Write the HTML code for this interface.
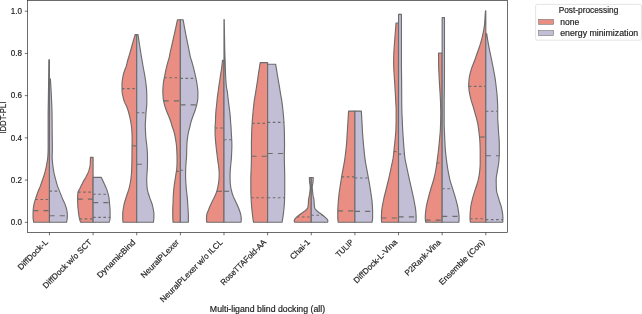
<!DOCTYPE html>
<html><head><meta charset="utf-8"><title>Multi-ligand blind docking</title>
<style>
html,body{margin:0;padding:0;background:#fff;}
body{width:642px;height:314px;overflow:hidden;position:relative;font-family:"Liberation Sans",sans-serif;}
</style></head><body>
<svg width="642" height="314" viewBox="0 0 642 314" style="position:absolute;left:0;top:0;will-change:transform">
<rect x="0" y="0" width="642" height="314" fill="#fff"/>
<path d="M49.45 59.70L48.85 59.70L48.84 60.70L48.83 61.70L48.82 62.70L48.81 63.70L48.80 64.70L48.80 65.70L48.79 66.70L48.78 67.70L48.77 68.70L48.75 69.70L48.74 70.70L48.73 71.70L48.72 72.70L48.71 73.70L48.70 74.70L48.69 75.70L48.68 76.70L48.67 77.70L48.65 78.70L48.64 79.70L48.63 80.70L48.62 81.70L48.60 82.70L48.59 83.70L48.57 84.70L48.56 85.70L48.55 86.70L48.53 87.70L48.52 88.70L48.50 89.70L48.49 90.70L48.47 91.70L48.46 92.70L48.44 93.70L48.43 94.70L48.41 95.70L48.40 96.70L48.38 97.70L48.37 98.70L48.35 99.70L48.34 100.70L48.32 101.70L48.31 102.70L48.29 103.70L48.27 104.70L48.26 105.70L48.24 106.70L48.22 107.70L48.21 108.70L48.19 109.70L48.18 110.70L48.17 111.70L48.16 112.70L48.15 113.70L48.15 114.70L48.15 115.70L48.15 116.70L48.15 117.70L48.15 118.70L48.15 119.70L48.15 120.70L48.15 121.70L48.15 122.70L48.15 123.70L48.15 124.70L48.15 125.70L48.15 126.70L48.15 127.70L48.15 128.70L48.15 129.70L48.15 130.70L48.15 131.70L48.15 132.70L48.15 133.70L48.15 134.70L48.15 135.70L48.15 136.70L48.15 137.70L48.15 138.70L48.15 139.70L48.15 140.70L48.15 141.70L48.15 142.70L48.15 143.70L48.15 144.70L48.15 145.70L48.15 146.70L48.15 147.70L48.15 148.70L48.13 149.70L48.11 150.70L48.08 151.70L48.04 152.70L48.00 153.70L47.94 154.70L47.89 155.70L47.82 156.70L47.76 157.70L47.67 158.70L47.53 159.70L47.36 160.70L47.18 161.70L47.00 162.70L46.83 163.70L46.66 164.70L46.49 165.70L46.29 166.70L46.08 167.70L45.86 168.70L45.62 169.70L45.38 170.70L45.12 171.70L44.85 172.70L44.56 173.70L44.25 174.70L43.92 175.70L43.57 176.70L43.23 177.70L42.89 178.70L42.55 179.70L42.22 180.70L41.88 181.70L41.55 182.70L41.20 183.70L40.84 184.70L40.47 185.70L40.08 186.70L39.66 187.70L39.23 188.70L38.80 189.70L38.38 190.70L37.99 191.70L37.62 192.70L37.25 193.70L36.90 194.70L36.56 195.70L36.23 196.70L35.91 197.70L35.59 198.70L35.27 199.70L34.96 200.70L34.65 201.70L34.37 202.70L34.13 203.70L33.93 204.70L33.76 205.70L33.60 206.70L33.45 207.70L33.32 208.70L33.22 209.70L33.16 210.70L33.13 211.70L33.10 212.70L33.08 213.70L33.06 214.70L33.05 215.70L33.05 216.70L33.09 217.70L33.18 218.70L33.30 219.70L33.46 220.70L33.64 221.70L33.75 222.30L49.45 222.30Z" fill="#EA8E83" stroke="#6c6c6c" stroke-width="1.14" stroke-linejoin="round"/>
<path d="M35.34 199.50H49.45" stroke="#6c6c6c" stroke-width="1.14" stroke-dasharray="2.57 2.57" fill="none"/>
<path d="M33.16 210.69H49.45" stroke="#6c6c6c" stroke-width="1.14" stroke-dasharray="5.13 5.13" fill="none"/>
<path d="M49.45 78.90L50.35 78.90L50.42 79.90L50.49 80.90L50.56 81.90L50.62 82.90L50.69 83.90L50.75 84.90L50.82 85.90L50.88 86.90L50.94 87.90L51.00 88.90L51.05 89.90L51.11 90.90L51.16 91.90L51.22 92.90L51.27 93.90L51.32 94.90L51.37 95.90L51.41 96.90L51.46 97.90L51.50 98.90L51.55 99.90L51.59 100.90L51.63 101.90L51.67 102.90L51.71 103.90L51.76 104.90L51.80 105.90L51.83 106.90L51.87 107.90L51.91 108.90L51.94 109.90L51.97 110.90L51.99 111.90L52.02 112.90L52.03 113.90L52.05 114.90L52.06 115.90L52.07 116.90L52.08 117.90L52.08 118.90L52.09 119.90L52.10 120.90L52.10 121.90L52.11 122.90L52.11 123.90L52.12 124.90L52.12 125.90L52.13 126.90L52.13 127.90L52.14 128.90L52.15 129.90L52.16 130.90L52.17 131.90L52.18 132.90L52.19 133.90L52.21 134.90L52.22 135.90L52.24 136.90L52.25 137.90L52.27 138.90L52.28 139.90L52.30 140.90L52.31 141.90L52.32 142.90L52.33 143.90L52.34 144.90L52.34 145.90L52.35 146.90L52.35 147.90L52.35 148.90L52.33 149.90L52.31 150.90L52.28 151.90L52.25 152.90L52.22 153.90L52.19 154.90L52.17 155.90L52.15 156.90L52.15 157.90L52.18 158.90L52.25 159.90L52.34 160.90L52.44 161.90L52.54 162.90L52.64 163.90L52.76 164.90L52.88 165.90L53.02 166.90L53.16 167.90L53.30 168.90L53.46 169.90L53.62 170.90L53.80 171.90L53.99 172.90L54.20 173.90L54.44 174.90L54.69 175.90L54.96 176.90L55.23 177.90L55.50 178.90L55.76 179.90L56.03 180.90L56.29 181.90L56.57 182.90L56.86 183.90L57.16 184.90L57.48 185.90L57.83 186.90L58.20 187.90L58.59 188.90L58.99 189.90L59.39 190.90L59.79 191.90L60.18 192.90L60.58 193.90L60.99 194.90L61.39 195.90L61.81 196.90L62.22 197.90L62.65 198.90L63.11 199.90L63.58 200.90L64.04 201.90L64.49 202.90L64.90 203.90L65.25 204.90L65.60 205.90L65.93 206.90L66.24 207.90L66.52 208.90L66.75 209.90L66.94 210.90L67.08 211.90L67.21 212.90L67.31 213.90L67.35 214.90L67.34 215.90L67.31 216.90L67.24 217.90L67.15 218.90L67.02 219.90L66.85 220.90L66.64 221.90L66.55 222.30L49.45 222.30Z" fill="#C1BED6" stroke="#6c6c6c" stroke-width="1.14" stroke-linejoin="round"/>
<path d="M49.45 191.06H59.46" stroke="#6c6c6c" stroke-width="1.14" stroke-dasharray="2.57 2.57" fill="none"/>
<path d="M49.45 215.76H67.34" stroke="#6c6c6c" stroke-width="1.14" stroke-dasharray="5.13 5.13" fill="none"/>
<path d="M93.09 157.40L90.49 157.40L90.48 158.40L90.45 159.40L90.41 160.40L90.36 161.40L90.30 162.40L90.24 163.40L90.16 164.40L90.04 165.40L89.88 166.40L89.67 167.40L89.43 168.40L89.18 169.40L88.90 170.40L88.55 171.40L88.14 172.40L87.68 173.40L87.19 174.40L86.68 175.40L86.19 176.40L85.67 177.40L85.12 178.40L84.55 179.40L83.98 180.40L83.42 181.40L82.88 182.40L82.35 183.40L81.84 184.40L81.32 185.40L80.82 186.40L80.32 187.40L79.84 188.40L79.29 189.40L78.72 190.40L78.25 191.40L77.99 192.40L77.87 193.40L77.78 194.40L77.70 195.40L77.64 196.40L77.60 197.40L77.59 198.40L77.59 199.40L77.60 200.40L77.63 201.40L77.67 202.40L77.71 203.40L77.75 204.40L77.80 205.40L77.86 206.40L77.95 207.40L78.04 208.40L78.15 209.40L78.26 210.40L78.37 211.40L78.49 212.40L78.61 213.40L78.74 214.40L78.88 215.40L79.03 216.40L79.21 217.40L79.41 218.40L79.66 219.40L79.95 220.40L80.28 221.40L80.59 222.30L93.09 222.30Z" fill="#EA8E83" stroke="#6c6c6c" stroke-width="1.14" stroke-linejoin="round"/>
<path d="M78.03 192.11H93.09" stroke="#6c6c6c" stroke-width="1.14" stroke-dasharray="2.57 2.57" fill="none"/>
<path d="M77.59 199.08H93.09" stroke="#6c6c6c" stroke-width="1.14" stroke-dasharray="5.13 5.13" fill="none"/>
<path d="M79.54 218.92H93.09" stroke="#6c6c6c" stroke-width="1.14" stroke-dasharray="2.57 2.57" fill="none"/>
<path d="M93.09 177.40L101.39 177.40L101.85 178.40L102.31 179.40L102.77 180.40L103.22 181.40L103.68 182.40L104.13 183.40L104.60 184.40L105.06 185.40L105.50 186.40L105.93 187.40L106.32 188.40L106.70 189.40L107.06 190.40L107.39 191.40L107.69 192.40L107.96 193.40L108.22 194.40L108.46 195.40L108.68 196.40L108.88 197.40L109.04 198.40L109.17 199.40L109.29 200.40L109.38 201.40L109.47 202.40L109.56 203.40L109.63 204.40L109.71 205.40L109.79 206.40L109.87 207.40L109.95 208.40L110.02 209.40L110.07 210.40L110.08 211.40L110.09 212.40L110.09 213.40L110.09 214.40L110.09 215.40L110.09 216.40L110.09 217.40L110.06 218.40L109.91 219.40L109.67 220.40L109.37 221.40L109.09 222.30L93.09 222.30Z" fill="#C1BED6" stroke="#6c6c6c" stroke-width="1.14" stroke-linejoin="round"/>
<path d="M93.09 194.22H108.17" stroke="#6c6c6c" stroke-width="1.14" stroke-dasharray="2.57 2.57" fill="none"/>
<path d="M93.09 202.56H109.49" stroke="#6c6c6c" stroke-width="1.14" stroke-dasharray="5.13 5.13" fill="none"/>
<path d="M93.09 217.44H110.09" stroke="#6c6c6c" stroke-width="1.14" stroke-dasharray="2.57 2.57" fill="none"/>
<path d="M136.72 34.50L135.22 34.50L134.92 35.50L134.63 36.50L134.33 37.50L134.04 38.50L133.74 39.50L133.45 40.50L133.16 41.50L132.88 42.50L132.59 43.50L132.31 44.50L132.03 45.50L131.75 46.50L131.47 47.50L131.19 48.50L130.91 49.50L130.63 50.50L130.35 51.50L130.07 52.50L129.79 53.50L129.51 54.50L129.22 55.50L128.92 56.50L128.60 57.50L128.28 58.50L127.97 59.50L127.67 60.50L127.40 61.50L127.16 62.50L126.96 63.50L126.74 64.50L126.48 65.50L126.15 66.50L125.77 67.50L125.38 68.50L124.98 69.50L124.61 70.50L124.29 71.50L123.99 72.50L123.70 73.50L123.42 74.50L123.16 75.50L122.94 76.50L122.75 77.50L122.60 78.50L122.44 79.50L122.30 80.50L122.18 81.50L122.08 82.50L122.03 83.50L122.02 84.50L122.02 85.50L122.02 86.50L122.02 87.50L122.02 88.50L122.02 89.50L122.02 90.50L122.06 91.50L122.17 92.50L122.33 93.50L122.53 94.50L122.74 95.50L122.96 96.50L123.17 97.50L123.41 98.50L123.68 99.50L123.99 100.50L124.32 101.50L124.72 102.50L125.21 103.50L125.73 104.50L126.23 105.50L126.66 106.50L127.04 107.50L127.40 108.50L127.75 109.50L128.07 110.50L128.38 111.50L128.66 112.50L128.94 113.50L129.19 114.50L129.44 115.50L129.67 116.50L129.89 117.50L130.10 118.50L130.30 119.50L130.50 120.50L130.69 121.50L130.87 122.50L131.03 123.50L131.19 124.50L131.32 125.50L131.44 126.50L131.56 127.50L131.66 128.50L131.76 129.50L131.84 130.50L131.90 131.50L131.95 132.50L132.00 133.50L132.04 134.50L132.07 135.50L132.10 136.50L132.12 137.50L132.12 138.50L132.12 139.50L132.11 140.50L132.10 141.50L132.09 142.50L132.07 143.50L132.06 144.50L132.05 145.50L132.03 146.50L132.02 147.50L132.01 148.50L132.01 149.50L132.00 150.50L131.99 151.50L131.99 152.50L131.98 153.50L131.97 154.50L131.97 155.50L131.96 156.50L131.95 157.50L131.94 158.50L131.93 159.50L131.92 160.50L131.91 161.50L131.89 162.50L131.87 163.50L131.85 164.50L131.82 165.50L131.79 166.50L131.76 167.50L131.72 168.50L131.68 169.50L131.64 170.50L131.60 171.50L131.54 172.50L131.47 173.50L131.39 174.50L131.29 175.50L131.19 176.50L131.08 177.50L130.97 178.50L130.84 179.50L130.70 180.50L130.54 181.50L130.37 182.50L130.17 183.50L129.97 184.50L129.75 185.50L129.53 186.50L129.29 187.50L129.04 188.50L128.76 189.50L128.45 190.50L128.11 191.50L127.77 192.50L127.42 193.50L127.07 194.50L126.73 195.50L126.41 196.50L126.11 197.50L125.79 198.50L125.47 199.50L125.16 200.50L124.85 201.50L124.56 202.50L124.29 203.50L124.06 204.50L123.86 205.50L123.68 206.50L123.51 207.50L123.34 208.50L123.18 209.50L123.03 210.50L122.91 211.50L122.81 212.50L122.75 213.50L122.72 214.50L122.72 215.50L122.73 216.50L122.74 217.50L122.76 218.50L122.80 219.50L122.86 220.50L122.94 221.50L123.02 222.30L136.72 222.30Z" fill="#EA8E83" stroke="#6c6c6c" stroke-width="1.14" stroke-linejoin="round"/>
<path d="M122.02 88.67H136.72" stroke="#6c6c6c" stroke-width="1.14" stroke-dasharray="2.57 2.57" fill="none"/>
<path d="M132.04 145.88H136.72" stroke="#6c6c6c" stroke-width="1.14" stroke-dasharray="5.13 5.13" fill="none"/>
<path d="M136.72 34.50L138.02 34.50L138.16 35.50L138.30 36.50L138.45 37.50L138.59 38.50L138.74 39.50L138.89 40.50L139.04 41.50L139.19 42.50L139.34 43.50L139.50 44.50L139.65 45.50L139.81 46.50L139.97 47.50L140.13 48.50L140.28 49.50L140.44 50.50L140.59 51.50L140.74 52.50L140.90 53.50L141.06 54.50L141.22 55.50L141.39 56.50L141.56 57.50L141.74 58.50L141.92 59.50L142.10 60.50L142.27 61.50L142.43 62.50L142.58 63.50L142.74 64.50L142.91 65.50L143.09 66.50L143.28 67.50L143.47 68.50L143.66 69.50L143.85 70.50L144.04 71.50L144.22 72.50L144.40 73.50L144.58 74.50L144.76 75.50L144.93 76.50L145.09 77.50L145.24 78.50L145.40 79.50L145.55 80.50L145.69 81.50L145.82 82.50L145.95 83.50L146.07 84.50L146.18 85.50L146.29 86.50L146.39 87.50L146.48 88.50L146.56 89.50L146.62 90.50L146.67 91.50L146.71 92.50L146.75 93.50L146.78 94.50L146.81 95.50L146.82 96.50L146.82 97.50L146.82 98.50L146.82 99.50L146.82 100.50L146.82 101.50L146.82 102.50L146.82 103.50L146.77 104.50L146.69 105.50L146.61 106.50L146.53 107.50L146.43 108.50L146.33 109.50L146.22 110.50L146.12 111.50L146.04 112.50L145.96 113.50L145.89 114.50L145.83 115.50L145.77 116.50L145.71 117.50L145.65 118.50L145.60 119.50L145.54 120.50L145.47 121.50L145.42 122.50L145.37 123.50L145.33 124.50L145.32 125.50L145.33 126.50L145.35 127.50L145.38 128.50L145.42 129.50L145.46 130.50L145.51 131.50L145.55 132.50L145.60 133.50L145.65 134.50L145.72 135.50L145.78 136.50L145.86 137.50L145.95 138.50L146.07 139.50L146.20 140.50L146.33 141.50L146.45 142.50L146.57 143.50L146.69 144.50L146.81 145.50L146.91 146.50L147.00 147.50L147.08 148.50L147.16 149.50L147.24 150.50L147.30 151.50L147.36 152.50L147.40 153.50L147.43 154.50L147.45 155.50L147.48 156.50L147.49 157.50L147.51 158.50L147.52 159.50L147.52 160.50L147.52 161.50L147.51 162.50L147.49 163.50L147.47 164.50L147.45 165.50L147.43 166.50L147.40 167.50L147.35 168.50L147.28 169.50L147.22 170.50L147.15 171.50L147.09 172.50L147.02 173.50L146.94 174.50L146.87 175.50L146.80 176.50L146.75 177.50L146.72 178.50L146.72 179.50L146.74 180.50L146.76 181.50L146.80 182.50L146.84 183.50L146.90 184.50L146.96 185.50L147.02 186.50L147.10 187.50L147.19 188.50L147.34 189.50L147.55 190.50L147.80 191.50L148.08 192.50L148.39 193.50L148.70 194.50L149.02 195.50L149.33 196.50L149.64 197.50L149.99 198.50L150.37 199.50L150.76 200.50L151.16 201.50L151.54 202.50L151.90 203.50L152.21 204.50L152.48 205.50L152.70 206.50L152.92 207.50L153.13 208.50L153.34 209.50L153.52 210.50L153.68 211.50L153.80 212.50L153.89 213.50L153.92 214.50L153.92 215.50L153.90 216.50L153.88 217.50L153.83 218.50L153.76 219.50L153.67 220.50L153.54 221.50L153.42 222.30L136.72 222.30Z" fill="#C1BED6" stroke="#6c6c6c" stroke-width="1.14" stroke-linejoin="round"/>
<path d="M136.72 112.74H146.02" stroke="#6c6c6c" stroke-width="1.14" stroke-dasharray="2.57 2.57" fill="none"/>
<path d="M136.72 164.25H147.48" stroke="#6c6c6c" stroke-width="1.14" stroke-dasharray="5.13 5.13" fill="none"/>
<path d="M180.36 19.80L177.46 19.80L177.24 20.80L177.03 21.80L176.81 22.80L176.60 23.80L176.38 24.80L176.17 25.80L175.95 26.80L175.73 27.80L175.52 28.80L175.30 29.80L175.08 30.80L174.87 31.80L174.65 32.80L174.42 33.80L174.19 34.80L173.96 35.80L173.73 36.80L173.49 37.80L173.25 38.80L173.02 39.80L172.79 40.80L172.56 41.80L172.34 42.80L172.12 43.80L171.90 44.80L171.68 45.80L171.46 46.80L171.23 47.80L171.00 48.80L170.76 49.80L170.53 50.80L170.30 51.80L170.09 52.80L169.88 53.80L169.70 54.80L169.56 55.80L169.37 56.80L169.13 57.80L168.84 58.80L168.53 59.80L168.22 60.80L167.91 61.80L167.63 62.80L167.36 63.80L167.10 64.80L166.85 65.80L166.60 66.80L166.36 67.80L166.12 68.80L165.90 69.80L165.69 70.80L165.48 71.80L165.28 72.80L165.09 73.80L164.89 74.80L164.70 75.80L164.49 76.80L164.28 77.80L164.07 78.80L163.87 79.80L163.70 80.80L163.56 81.80L163.43 82.80L163.32 83.80L163.21 84.80L163.12 85.80L163.04 86.80L162.97 87.80L162.93 88.80L162.89 89.80L162.86 90.80L162.86 91.80L162.87 92.80L162.91 93.80L162.96 94.80L163.02 95.80L163.09 96.80L163.16 97.80L163.27 98.80L163.42 99.80L163.61 100.80L163.82 101.80L164.05 102.80L164.28 103.80L164.53 104.80L164.80 105.80L165.10 106.80L165.42 107.80L165.76 108.80L166.11 109.80L166.46 110.80L166.85 111.80L167.27 112.80L167.70 113.80L168.13 114.80L168.55 115.80L168.96 116.80L169.34 117.80L169.72 118.80L170.09 119.80L170.45 120.80L170.80 121.80L171.13 122.80L171.43 123.80L171.71 124.80L171.98 125.80L172.28 126.80L172.61 127.80L172.97 128.80L173.33 129.80L173.68 130.80L174.00 131.80L174.28 132.80L174.52 133.80L174.75 134.80L174.95 135.80L175.15 136.80L175.33 137.80L175.50 138.80L175.67 139.80L175.84 140.80L175.99 141.80L176.14 142.80L176.27 143.80L176.39 144.80L176.48 145.80L176.56 146.80L176.63 147.80L176.70 148.80L176.76 149.80L176.81 150.80L176.86 151.80L176.90 152.80L176.94 153.80L176.98 154.80L177.02 155.80L177.04 156.80L177.05 157.80L177.06 158.80L177.06 159.80L177.06 160.80L177.05 161.80L177.04 162.80L177.02 163.80L176.99 164.80L176.95 165.80L176.90 166.80L176.85 167.80L176.77 168.80L176.65 169.80L176.50 170.80L176.33 171.80L176.16 172.80L176.00 173.80L175.85 174.80L175.69 175.80L175.54 176.80L175.38 177.80L175.22 178.80L175.06 179.80L174.91 180.80L174.76 181.80L174.60 182.80L174.45 183.80L174.31 184.80L174.18 185.80L174.06 186.80L173.94 187.80L173.84 188.80L173.74 189.80L173.65 190.80L173.56 191.80L173.48 192.80L173.41 193.80L173.34 194.80L173.28 195.80L173.24 196.80L173.20 197.80L173.17 198.80L173.14 199.80L173.12 200.80L173.09 201.80L173.05 202.80L173.00 203.80L172.94 204.80L172.88 205.80L172.82 206.80L172.78 207.80L172.76 208.80L172.76 209.80L172.76 210.80L172.76 211.80L172.76 212.80L172.76 213.80L172.76 214.80L172.76 215.80L172.77 216.80L172.80 217.80L172.84 218.80L172.90 219.80L172.96 220.80L173.02 221.80L173.06 222.30L180.36 222.30Z" fill="#EA8E83" stroke="#6c6c6c" stroke-width="1.14" stroke-linejoin="round"/>
<path d="M164.28 77.80H180.36" stroke="#6c6c6c" stroke-width="1.14" stroke-dasharray="2.57 2.57" fill="none"/>
<path d="M163.63 100.92H180.36" stroke="#6c6c6c" stroke-width="1.14" stroke-dasharray="5.13 5.13" fill="none"/>
<path d="M176.41 171.32H180.36" stroke="#6c6c6c" stroke-width="1.14" stroke-dasharray="2.57 2.57" fill="none"/>
<path d="M180.36 19.80L183.16 19.80L183.33 20.80L183.50 21.80L183.68 22.80L183.85 23.80L184.03 24.80L184.21 25.80L184.39 26.80L184.57 27.80L184.76 28.80L184.94 29.80L185.13 30.80L185.31 31.80L185.50 32.80L185.70 33.80L185.89 34.80L186.09 35.80L186.30 36.80L186.50 37.80L186.71 38.80L186.91 39.80L187.12 40.80L187.32 41.80L187.53 42.80L187.74 43.80L187.95 44.80L188.15 45.80L188.36 46.80L188.55 47.80L188.75 48.80L188.94 49.80L189.13 50.80L189.32 51.80L189.52 52.80L189.71 53.80L189.92 54.80L190.12 55.80L190.35 56.80L190.63 57.80L190.93 58.80L191.25 59.80L191.58 60.80L191.89 61.80L192.18 62.80L192.46 63.80L192.74 64.80L193.01 65.80L193.27 66.80L193.53 67.80L193.78 68.80L194.03 69.80L194.27 70.80L194.51 71.80L194.75 72.80L194.98 73.80L195.20 74.80L195.42 75.80L195.64 76.80L195.86 77.80L196.08 78.80L196.28 79.80L196.48 80.80L196.66 81.80L196.82 82.80L196.97 83.80L197.12 84.80L197.26 85.80L197.39 86.80L197.51 87.80L197.63 88.80L197.75 89.80L197.84 90.80L197.86 91.80L197.86 92.80L197.86 93.80L197.86 94.80L197.86 95.80L197.86 96.80L197.85 97.80L197.81 98.80L197.70 99.80L197.53 100.80L197.34 101.80L197.13 102.80L196.92 103.80L196.71 104.80L196.46 105.80L196.19 106.80L195.90 107.80L195.59 108.80L195.28 109.80L194.96 110.80L194.61 111.80L194.25 112.80L193.87 113.80L193.49 114.80L193.11 115.80L192.76 116.80L192.40 117.80L192.05 118.80L191.70 119.80L191.37 120.80L191.05 121.80L190.76 122.80L190.51 123.80L190.30 124.80L190.09 125.80L189.86 126.80L189.60 127.80L189.33 128.80L189.06 129.80L188.79 130.80L188.55 131.80L188.34 132.80L188.15 133.80L187.97 134.80L187.80 135.80L187.65 136.80L187.51 137.80L187.39 138.80L187.28 139.80L187.19 140.80L187.10 141.80L187.02 142.80L186.95 143.80L186.89 144.80L186.84 145.80L186.80 146.80L186.77 147.80L186.74 148.80L186.71 149.80L186.68 150.80L186.66 151.80L186.63 152.80L186.60 153.80L186.57 154.80L186.55 155.80L186.51 156.80L186.47 157.80L186.41 158.80L186.32 159.80L186.21 160.80L186.12 161.80L186.05 162.80L185.98 163.80L185.91 164.80L185.85 165.80L185.80 166.80L185.75 167.80L185.71 168.80L185.66 169.80L185.63 170.80L185.59 171.80L185.57 172.80L185.56 173.80L185.56 174.80L185.58 175.80L185.60 176.80L185.64 177.80L185.68 178.80L185.73 179.80L185.77 180.80L185.82 181.80L185.87 182.80L185.94 183.80L186.01 184.80L186.08 185.80L186.16 186.80L186.23 187.80L186.32 188.80L186.41 189.80L186.51 190.80L186.61 191.80L186.71 192.80L186.83 193.80L186.96 194.80L187.09 195.80L187.19 196.80L187.29 197.80L187.37 198.80L187.45 199.80L187.52 200.80L187.59 201.80L187.66 202.80L187.73 203.80L187.80 204.80L187.86 205.80L187.92 206.80L187.98 207.80L188.04 208.80L188.09 209.80L188.16 210.80L188.22 211.80L188.28 212.80L188.32 213.80L188.35 214.80L188.36 215.80L188.36 216.80L188.36 217.80L188.36 218.80L188.36 219.80L188.36 220.80L188.36 221.80L188.36 222.30L180.36 222.30Z" fill="#C1BED6" stroke="#6c6c6c" stroke-width="1.14" stroke-linejoin="round"/>
<path d="M180.36 78.33H195.98" stroke="#6c6c6c" stroke-width="1.14" stroke-dasharray="2.57 2.57" fill="none"/>
<path d="M180.36 104.93H196.68" stroke="#6c6c6c" stroke-width="1.14" stroke-dasharray="5.13 5.13" fill="none"/>
<path d="M180.36 170.26H185.65" stroke="#6c6c6c" stroke-width="1.14" stroke-dasharray="2.57 2.57" fill="none"/>
<path d="M223.99 60.20L222.49 60.20L222.40 61.20L222.30 62.20L222.20 63.20L222.09 64.20L221.98 65.20L221.86 66.20L221.73 67.20L221.61 68.20L221.48 69.20L221.34 70.20L221.18 71.20L221.02 72.20L220.86 73.20L220.69 74.20L220.54 75.20L220.39 76.20L220.24 77.20L220.10 78.20L219.96 79.20L219.82 80.20L219.68 81.20L219.53 82.20L219.37 83.20L219.21 84.20L219.05 85.20L218.89 86.20L218.73 87.20L218.59 88.20L218.46 89.20L218.34 90.20L218.22 91.20L218.08 92.20L217.93 93.20L217.78 94.20L217.63 95.20L217.48 96.20L217.35 97.20L217.24 98.20L217.13 99.20L217.04 100.20L216.95 101.20L216.87 102.20L216.78 103.20L216.68 104.20L216.57 105.20L216.45 106.20L216.34 107.20L216.22 108.20L216.11 109.20L216.01 110.20L215.93 111.20L215.86 112.20L215.79 113.20L215.73 114.20L215.67 115.20L215.62 116.20L215.57 117.20L215.54 118.20L215.52 119.20L215.49 120.20L215.47 121.20L215.43 122.20L215.39 123.20L215.30 124.20L215.17 125.20L215.09 126.20L215.09 127.20L215.09 128.20L215.09 129.20L215.09 130.20L215.09 131.20L215.09 132.20L215.09 133.20L215.11 134.20L215.15 135.20L215.21 136.20L215.27 137.20L215.33 138.20L215.40 139.20L215.47 140.20L215.55 141.20L215.65 142.20L215.75 143.20L215.85 144.20L215.96 145.20L216.06 146.20L216.17 147.20L216.28 148.20L216.39 149.20L216.50 150.20L216.62 151.20L216.74 152.20L216.86 153.20L216.98 154.20L217.11 155.20L217.24 156.20L217.36 157.20L217.49 158.20L217.61 159.20L217.74 160.20L217.86 161.20L218.00 162.20L218.16 163.20L218.32 164.20L218.48 165.20L218.62 166.20L218.74 167.20L218.83 168.20L218.92 169.20L219.01 170.20L219.08 171.20L219.14 172.20L219.18 173.20L219.19 174.20L219.18 175.20L219.15 176.20L219.10 177.20L219.05 178.20L218.98 179.20L218.91 180.20L218.83 181.20L218.71 182.20L218.56 183.20L218.39 184.20L218.21 185.20L218.01 186.20L217.81 187.20L217.59 188.20L217.35 189.20L217.08 190.20L216.78 191.20L216.46 192.20L216.08 193.20L215.66 194.20L215.23 195.20L214.78 196.20L214.32 197.20L213.84 198.20L213.33 199.20L212.82 200.20L212.32 201.20L211.83 202.20L211.36 203.20L210.89 204.20L210.44 205.20L209.99 206.20L209.55 207.20L209.14 208.20L208.75 209.20L208.36 210.20L207.94 211.20L207.55 212.20L207.19 213.20L206.91 214.20L206.72 215.20L206.63 216.20L206.56 217.20L206.51 218.20L206.49 219.20L206.52 220.20L206.62 221.20L206.77 222.20L206.79 222.30L223.99 222.30Z" fill="#EA8E83" stroke="#6c6c6c" stroke-width="1.14" stroke-linejoin="round"/>
<path d="M215.09 128.04H223.99" stroke="#6c6c6c" stroke-width="1.14" stroke-dasharray="2.57 2.57" fill="none"/>
<path d="M216.76 191.27H223.99" stroke="#6c6c6c" stroke-width="1.14" stroke-dasharray="5.13 5.13" fill="none"/>
<path d="M223.99 19.50L224.24 19.50L224.25 20.50L224.27 21.50L224.28 22.50L224.30 23.50L224.31 24.50L224.33 25.50L224.35 26.50L224.36 27.50L224.38 28.50L224.40 29.50L224.41 30.50L224.43 31.50L224.45 32.50L224.46 33.50L224.48 34.50L224.50 35.50L224.52 36.50L224.53 37.50L224.55 38.50L224.57 39.50L224.59 40.50L224.60 41.50L224.62 42.50L224.64 43.50L224.66 44.50L224.67 45.50L224.69 46.50L224.71 47.50L224.73 48.50L224.76 49.50L224.78 50.50L224.80 51.50L224.82 52.50L224.85 53.50L224.88 54.50L224.90 55.50L224.94 56.50L224.98 57.50L225.02 58.50L225.06 59.50L225.10 60.50L225.14 61.50L225.18 62.50L225.22 63.50L225.25 64.50L225.28 65.50L225.31 66.50L225.33 67.50L225.36 68.50L225.39 69.50L225.42 70.50L225.44 71.50L225.48 72.50L225.51 73.50L225.55 74.50L225.59 75.50L225.64 76.50L225.69 77.50L225.75 78.50L225.82 79.50L225.89 80.50L225.97 81.50L226.04 82.50L226.12 83.50L226.20 84.50L226.29 85.50L226.38 86.50L226.50 87.50L226.64 88.50L226.86 89.50L227.11 90.50L227.31 91.50L227.44 92.50L227.56 93.50L227.66 94.50L227.76 95.50L227.86 96.50L227.97 97.50L228.09 98.50L228.21 99.50L228.33 100.50L228.46 101.50L228.59 102.50L228.71 103.50L228.84 104.50L228.97 105.50L229.09 106.50L229.22 107.50L229.35 108.50L229.47 109.50L229.59 110.50L229.71 111.50L229.83 112.50L229.95 113.50L230.07 114.50L230.17 115.50L230.27 116.50L230.34 117.50L230.41 118.50L230.47 119.50L230.52 120.50L230.58 121.50L230.64 122.50L230.71 123.50L230.81 124.50L230.92 125.50L231.00 126.50L231.05 127.50L231.10 128.50L231.15 129.50L231.19 130.50L231.23 131.50L231.28 132.50L231.34 133.50L231.40 134.50L231.47 135.50L231.54 136.50L231.61 137.50L231.66 138.50L231.71 139.50L231.75 140.50L231.79 141.50L231.83 142.50L231.86 143.50L231.88 144.50L231.89 145.50L231.88 146.50L231.86 147.50L231.83 148.50L231.79 149.50L231.74 150.50L231.70 151.50L231.66 152.50L231.62 153.50L231.58 154.50L231.54 155.50L231.49 156.50L231.43 157.50L231.37 158.50L231.28 159.50L231.18 160.50L231.08 161.50L230.98 162.50L230.88 163.50L230.78 164.50L230.68 165.50L230.59 166.50L230.51 167.50L230.43 168.50L230.34 169.50L230.26 170.50L230.19 171.50L230.13 172.50L230.10 173.50L230.09 174.50L230.09 175.50L230.09 176.50L230.09 177.50L230.09 178.50L230.09 179.50L230.09 180.50L230.11 181.50L230.17 182.50L230.27 183.50L230.38 184.50L230.51 185.50L230.65 186.50L230.80 187.50L230.98 188.50L231.20 189.50L231.44 190.50L231.69 191.50L231.96 192.50L232.27 193.50L232.60 194.50L232.96 195.50L233.33 196.50L233.74 197.50L234.19 198.50L234.66 199.50L235.15 200.50L235.63 201.50L236.10 202.50L236.55 203.50L237.02 204.50L237.48 205.50L237.94 206.50L238.37 207.50L238.77 208.50L239.13 209.50L239.49 210.50L239.84 211.50L240.17 212.50L240.46 213.50L240.71 214.50L240.89 215.50L241.04 216.50L241.17 217.50L241.26 218.50L241.29 219.50L241.22 220.50L241.06 221.50L240.89 222.30L223.99 222.30Z" fill="#C1BED6" stroke="#6c6c6c" stroke-width="1.14" stroke-linejoin="round"/>
<path d="M223.99 139.76H231.72" stroke="#6c6c6c" stroke-width="1.14" stroke-dasharray="2.57 2.57" fill="none"/>
<path d="M223.99 191.27H231.63" stroke="#6c6c6c" stroke-width="1.14" stroke-dasharray="5.13 5.13" fill="none"/>
<path d="M267.62 62.60L260.23 62.60L260.07 63.60L259.91 64.60L259.75 65.60L259.60 66.60L259.44 67.60L259.28 68.60L259.12 69.60L258.97 70.60L258.81 71.60L258.65 72.60L258.50 73.60L258.35 74.60L258.21 75.60L258.07 76.60L257.93 77.60L257.80 78.60L257.66 79.60L257.51 80.60L257.36 81.60L257.20 82.60L257.04 83.60L256.88 84.60L256.72 85.60L256.56 86.60L256.40 87.60L256.24 88.60L256.09 89.60L255.93 90.60L255.78 91.60L255.62 92.60L255.46 93.60L255.29 94.60L255.12 95.60L254.94 96.60L254.77 97.60L254.60 98.60L254.44 99.60L254.29 100.60L254.16 101.60L254.03 102.60L253.91 103.60L253.80 104.60L253.69 105.60L253.58 106.60L253.48 107.60L253.38 108.60L253.28 109.60L253.18 110.60L253.09 111.60L253.00 112.60L252.91 113.60L252.81 114.60L252.72 115.60L252.63 116.60L252.55 117.60L252.46 118.60L252.38 119.60L252.31 120.60L252.24 121.60L252.17 122.60L252.11 123.60L252.06 124.60L252.00 125.60L251.95 126.60L251.90 127.60L251.85 128.60L251.80 129.60L251.76 130.60L251.72 131.60L251.68 132.60L251.65 133.60L251.62 134.60L251.60 135.60L251.57 136.60L251.55 137.60L251.52 138.60L251.50 139.60L251.48 140.60L251.46 141.60L251.45 142.60L251.44 143.60L251.43 144.60L251.43 145.60L251.43 146.60L251.43 147.60L251.43 148.60L251.43 149.60L251.43 150.60L251.43 151.60L251.43 152.60L251.43 153.60L251.43 154.60L251.43 155.60L251.43 156.60L251.42 157.60L251.42 158.60L251.40 159.60L251.39 160.60L251.37 161.60L251.34 162.60L251.32 163.60L251.29 164.60L251.26 165.60L251.24 166.60L251.21 167.60L251.18 168.60L251.14 169.60L251.09 170.60L251.04 171.60L250.99 172.60L250.95 173.60L250.91 174.60L250.87 175.60L250.84 176.60L250.83 177.60L250.82 178.60L250.82 179.60L250.82 180.60L250.82 181.60L250.82 182.60L250.82 183.60L250.82 184.60L250.82 185.60L250.82 186.60L250.82 187.60L250.82 188.60L250.83 189.60L250.83 190.60L250.85 191.60L250.87 192.60L250.90 193.60L250.94 194.60L250.98 195.60L251.03 196.60L251.07 197.60L251.12 198.60L251.17 199.60L251.22 200.60L251.28 201.60L251.34 202.60L251.41 203.60L251.48 204.60L251.56 205.60L251.64 206.60L251.73 207.60L251.82 208.60L251.92 209.60L252.02 210.60L252.11 211.60L252.22 212.60L252.33 213.60L252.45 214.60L252.57 215.60L252.70 216.60L252.83 217.60L252.97 218.60L253.11 219.60L253.26 220.60L253.42 221.60L253.53 222.30L267.62 222.30Z" fill="#EA8E83" stroke="#6c6c6c" stroke-width="1.14" stroke-linejoin="round"/>
<path d="M252.13 123.40H267.62" stroke="#6c6c6c" stroke-width="1.14" stroke-dasharray="2.57 2.57" fill="none"/>
<path d="M251.43 156.23H267.62" stroke="#6c6c6c" stroke-width="1.14" stroke-dasharray="5.13 5.13" fill="none"/>
<path d="M251.08 197.71H267.62" stroke="#6c6c6c" stroke-width="1.14" stroke-dasharray="2.57 2.57" fill="none"/>
<path d="M267.62 64.20L275.62 64.20L275.80 65.20L275.97 66.20L276.14 67.20L276.31 68.20L276.46 69.20L276.62 70.20L276.77 71.20L276.92 72.20L277.08 73.20L277.24 74.20L277.41 75.20L277.58 76.20L277.75 77.20L277.92 78.20L278.10 79.20L278.27 80.20L278.45 81.20L278.62 82.20L278.80 83.20L278.98 84.20L279.15 85.20L279.32 86.20L279.49 87.20L279.65 88.20L279.80 89.20L279.95 90.20L280.11 91.20L280.26 92.20L280.43 93.20L280.60 94.20L280.78 95.20L280.97 96.20L281.16 97.20L281.34 98.20L281.52 99.20L281.69 100.20L281.84 101.20L281.98 102.20L282.11 103.20L282.24 104.20L282.36 105.20L282.48 106.20L282.60 107.20L282.71 108.20L282.81 109.20L282.92 110.20L283.02 111.20L283.12 112.20L283.21 113.20L283.31 114.20L283.40 115.20L283.49 116.20L283.58 117.20L283.67 118.20L283.75 119.20L283.83 120.20L283.90 121.20L283.96 122.20L284.01 123.20L284.06 124.20L284.11 125.20L284.16 126.20L284.20 127.20L284.24 128.20L284.28 129.20L284.32 130.20L284.35 131.20L284.38 132.20L284.40 133.20L284.42 134.20L284.43 135.20L284.45 136.20L284.46 137.20L284.47 138.20L284.48 139.20L284.50 140.20L284.50 141.20L284.51 142.20L284.52 143.20L284.52 144.20L284.52 145.20L284.52 146.20L284.52 147.20L284.50 148.20L284.48 149.20L284.45 150.20L284.43 151.20L284.40 152.20L284.38 153.20L284.35 154.20L284.34 155.20L284.33 156.20L284.33 157.20L284.33 158.20L284.34 159.20L284.36 160.20L284.38 161.20L284.41 162.20L284.43 163.20L284.46 164.20L284.48 165.20L284.51 166.20L284.53 167.20L284.55 168.20L284.57 169.20L284.59 170.20L284.62 171.20L284.64 172.20L284.66 173.20L284.68 174.20L284.70 175.20L284.71 176.20L284.72 177.20L284.72 178.20L284.73 179.20L284.73 180.20L284.73 181.20L284.73 182.20L284.73 183.20L284.73 184.20L284.73 185.20L284.73 186.20L284.73 187.20L284.73 188.20L284.73 189.20L284.72 190.20L284.72 191.20L284.71 192.20L284.70 193.20L284.68 194.20L284.66 195.20L284.64 196.20L284.62 197.20L284.59 198.20L284.56 199.20L284.54 200.20L284.50 201.20L284.46 202.20L284.40 203.20L284.34 204.20L284.26 205.20L284.18 206.20L284.09 207.20L283.99 208.20L283.89 209.20L283.78 210.20L283.68 211.20L283.57 212.20L283.45 213.20L283.33 214.20L283.19 215.20L283.05 216.20L282.90 217.20L282.74 218.20L282.57 219.20L282.40 220.20L282.23 221.20L282.04 222.20L282.02 222.30L267.62 222.30Z" fill="#C1BED6" stroke="#6c6c6c" stroke-width="1.14" stroke-linejoin="round"/>
<path d="M267.62 122.34H283.97" stroke="#6c6c6c" stroke-width="1.14" stroke-dasharray="2.57 2.57" fill="none"/>
<path d="M267.62 153.48H284.37" stroke="#6c6c6c" stroke-width="1.14" stroke-dasharray="5.13 5.13" fill="none"/>
<path d="M267.62 197.71H284.60" stroke="#6c6c6c" stroke-width="1.14" stroke-dasharray="2.57 2.57" fill="none"/>
<path d="M311.26 177.45L309.36 177.45L309.40 178.45L309.45 179.45L309.51 180.45L309.58 181.45L309.66 182.45L309.79 183.45L309.95 184.45L310.11 185.45L310.23 186.45L310.26 187.45L310.21 188.45L310.12 189.45L310.02 190.45L309.91 191.45L309.80 192.45L309.68 193.45L309.54 194.45L309.39 195.45L309.19 196.45L308.97 197.45L308.76 198.45L308.60 199.45L308.51 200.45L308.44 201.45L308.40 202.45L308.34 203.45L308.27 204.45L308.18 205.45L308.05 206.45L307.85 207.45L307.38 208.45L306.64 209.45L305.49 210.45L304.10 211.45L302.71 212.45L301.26 213.45L299.90 214.45L298.60 215.45L297.41 216.45L296.35 217.45L295.41 218.45L294.64 219.45L294.26 220.45L294.34 221.45L294.66 222.30L311.26 222.30Z" fill="#EA8E83" stroke="#6c6c6c" stroke-width="1.14" stroke-linejoin="round"/>
<path d="M296.80 217.02H311.26" stroke="#6c6c6c" stroke-width="1.14" stroke-dasharray="2.57 2.57" fill="none"/>
<path d="M311.26 177.45L313.26 177.45L313.23 178.45L313.18 179.45L313.12 180.45L313.04 181.45L312.96 182.45L312.82 183.45L312.63 184.45L312.44 185.45L312.30 186.45L312.26 187.45L312.31 188.45L312.40 189.45L312.51 190.45L312.60 191.45L312.69 192.45L312.78 193.45L312.89 194.45L313.03 195.45L313.24 196.45L313.50 197.45L313.74 198.45L313.92 199.45L314.02 200.45L314.08 201.45L314.13 202.45L314.18 203.45L314.25 204.45L314.33 205.45L314.42 206.45L314.57 207.45L314.95 208.45L315.56 209.45L316.49 210.45L317.66 211.45L318.96 212.45L320.45 213.45L321.81 214.45L323.05 215.45L324.20 216.45L325.31 217.45L326.34 218.45L327.32 219.45L327.86 220.45L327.80 221.45L327.56 222.30L311.26 222.30Z" fill="#C1BED6" stroke="#6c6c6c" stroke-width="1.14" stroke-linejoin="round"/>
<path d="M311.26 215.23H322.78" stroke="#6c6c6c" stroke-width="1.14" stroke-dasharray="2.57 2.57" fill="none"/>
<path d="M354.89 111.10L348.59 111.10L348.53 112.10L348.47 113.10L348.41 114.10L348.35 115.10L348.29 116.10L348.23 117.10L348.17 118.10L348.10 119.10L348.04 120.10L347.98 121.10L347.92 122.10L347.86 123.10L347.79 124.10L347.73 125.10L347.67 126.10L347.61 127.10L347.55 128.10L347.48 129.10L347.42 130.10L347.36 131.10L347.30 132.10L347.23 133.10L347.17 134.10L347.11 135.10L347.05 136.10L346.99 137.10L346.93 138.10L346.87 139.10L346.81 140.10L346.75 141.10L346.68 142.10L346.60 143.10L346.52 144.10L346.43 145.10L346.34 146.10L346.24 147.10L346.13 148.10L346.02 149.10L345.91 150.10L345.79 151.10L345.68 152.10L345.56 153.10L345.44 154.10L345.32 155.10L345.19 156.10L345.06 157.10L344.92 158.10L344.78 159.10L344.64 160.10L344.48 161.10L344.33 162.10L344.16 163.10L343.97 164.10L343.78 165.10L343.59 166.10L343.40 167.10L343.20 168.10L343.01 169.10L342.82 170.10L342.63 171.10L342.44 172.10L342.26 173.10L342.08 174.10L341.91 175.10L341.74 176.10L341.58 177.10L341.42 178.10L341.26 179.10L341.11 180.10L340.95 181.10L340.80 182.10L340.65 183.10L340.50 184.10L340.34 185.10L340.19 186.10L340.03 187.10L339.87 188.10L339.72 189.10L339.57 190.10L339.43 191.10L339.29 192.10L339.17 193.10L339.05 194.10L338.94 195.10L338.82 196.10L338.72 197.10L338.61 198.10L338.51 199.10L338.42 200.10L338.34 201.10L338.27 202.10L338.20 203.10L338.14 204.10L338.08 205.10L338.03 206.10L337.97 207.10L337.92 208.10L337.88 209.10L337.84 210.10L337.81 211.10L337.80 212.10L337.79 213.10L337.79 214.10L337.79 215.10L337.79 216.10L337.79 217.10L337.80 218.10L337.84 219.10L337.95 220.10L338.09 221.10L338.26 222.10L338.29 222.30L354.89 222.30Z" fill="#EA8E83" stroke="#6c6c6c" stroke-width="1.14" stroke-linejoin="round"/>
<path d="M341.63 176.81H354.89" stroke="#6c6c6c" stroke-width="1.14" stroke-dasharray="2.57 2.57" fill="none"/>
<path d="M337.82 210.90H354.89" stroke="#6c6c6c" stroke-width="1.14" stroke-dasharray="5.13 5.13" fill="none"/>
<path d="M354.89 111.10L361.29 111.10L361.36 112.10L361.43 113.10L361.49 114.10L361.56 115.10L361.62 116.10L361.68 117.10L361.74 118.10L361.80 119.10L361.86 120.10L361.92 121.10L361.98 122.10L362.04 123.10L362.09 124.10L362.15 125.10L362.20 126.10L362.25 127.10L362.30 128.10L362.34 129.10L362.39 130.10L362.44 131.10L362.50 132.10L362.56 133.10L362.62 134.10L362.69 135.10L362.77 136.10L362.85 137.10L362.94 138.10L363.02 139.10L363.11 140.10L363.21 141.10L363.30 142.10L363.39 143.10L363.47 144.10L363.56 145.10L363.65 146.10L363.74 147.10L363.83 148.10L363.92 149.10L364.02 150.10L364.12 151.10L364.22 152.10L364.33 153.10L364.44 154.10L364.55 155.10L364.66 156.10L364.78 157.10L364.91 158.10L365.04 159.10L365.17 160.10L365.31 161.10L365.46 162.10L365.63 163.10L365.82 164.10L366.01 165.10L366.20 166.10L366.39 167.10L366.58 168.10L366.77 169.10L366.96 170.10L367.14 171.10L367.33 172.10L367.52 173.10L367.70 174.10L367.89 175.10L368.07 176.10L368.25 177.10L368.44 178.10L368.62 179.10L368.80 180.10L368.98 181.10L369.15 182.10L369.33 183.10L369.50 184.10L369.66 185.10L369.83 186.10L369.99 187.10L370.15 188.10L370.31 189.10L370.46 190.10L370.62 191.10L370.77 192.10L370.91 193.10L371.05 194.10L371.20 195.10L371.34 196.10L371.49 197.10L371.64 198.10L371.77 199.10L371.90 200.10L372.02 201.10L372.11 202.10L372.19 203.10L372.25 204.10L372.31 205.10L372.37 206.10L372.43 207.10L372.47 208.10L372.52 209.10L372.55 210.10L372.58 211.10L372.59 212.10L372.59 213.10L372.59 214.10L372.59 215.10L372.59 216.10L372.59 217.10L372.59 218.10L372.54 219.10L372.41 220.10L372.24 221.10L372.04 222.10L372.00 222.30L354.89 222.30Z" fill="#C1BED6" stroke="#6c6c6c" stroke-width="1.14" stroke-linejoin="round"/>
<path d="M354.89 177.97H368.41" stroke="#6c6c6c" stroke-width="1.14" stroke-dasharray="2.57 2.57" fill="none"/>
<path d="M354.89 211.43H372.58" stroke="#6c6c6c" stroke-width="1.14" stroke-dasharray="5.13 5.13" fill="none"/>
<path d="M398.53 23.00L396.03 23.00L395.95 24.00L395.88 25.00L395.80 26.00L395.73 27.00L395.65 28.00L395.57 29.00L395.50 30.00L395.42 31.00L395.34 32.00L395.27 33.00L395.19 34.00L395.11 35.00L395.04 36.00L394.96 37.00L394.88 38.00L394.80 39.00L394.72 40.00L394.65 41.00L394.57 42.00L394.50 43.00L394.43 44.00L394.36 45.00L394.29 46.00L394.21 47.00L394.14 48.00L394.07 49.00L394.01 50.00L393.95 51.00L393.89 52.00L393.85 53.00L393.82 54.00L393.79 55.00L393.76 56.00L393.73 57.00L393.70 58.00L393.68 59.00L393.66 60.00L393.64 61.00L393.63 62.00L393.63 63.00L393.64 64.00L393.66 65.00L393.69 66.00L393.73 67.00L393.77 68.00L393.83 69.00L393.88 70.00L393.94 71.00L393.99 72.00L394.05 73.00L394.10 74.00L394.16 75.00L394.22 76.00L394.29 77.00L394.35 78.00L394.42 79.00L394.49 80.00L394.55 81.00L394.62 82.00L394.68 83.00L394.74 84.00L394.81 85.00L394.87 86.00L394.94 87.00L395.00 88.00L395.06 89.00L395.12 90.00L395.18 91.00L395.24 92.00L395.30 93.00L395.35 94.00L395.41 95.00L395.46 96.00L395.51 97.00L395.56 98.00L395.61 99.00L395.66 100.00L395.71 101.00L395.77 102.00L395.83 103.00L395.89 104.00L395.95 105.00L396.01 106.00L396.06 107.00L396.10 108.00L396.13 109.00L396.13 110.00L396.13 111.00L396.13 112.00L396.13 113.00L396.13 114.00L396.13 115.00L396.13 116.00L396.13 117.00L396.13 118.00L396.13 119.00L396.13 120.00L396.12 121.00L396.11 122.00L396.09 123.00L396.07 124.00L396.04 125.00L396.01 126.00L395.98 127.00L395.95 128.00L395.92 129.00L395.88 130.00L395.82 131.00L395.75 132.00L395.68 133.00L395.60 134.00L395.51 135.00L395.42 136.00L395.34 137.00L395.25 138.00L395.16 139.00L395.06 140.00L394.96 141.00L394.86 142.00L394.75 143.00L394.64 144.00L394.53 145.00L394.42 146.00L394.31 147.00L394.21 148.00L394.11 149.00L394.01 150.00L393.92 151.00L393.82 152.00L393.73 153.00L393.62 154.00L393.52 155.00L393.40 156.00L393.27 157.00L393.13 158.00L392.96 159.00L392.77 160.00L392.57 161.00L392.36 162.00L392.14 163.00L391.91 164.00L391.69 165.00L391.47 166.00L391.25 167.00L391.04 168.00L390.83 169.00L390.62 170.00L390.42 171.00L390.20 172.00L389.99 173.00L389.78 174.00L389.56 175.00L389.34 176.00L389.12 177.00L388.90 178.00L388.67 179.00L388.43 180.00L388.20 181.00L387.95 182.00L387.71 183.00L387.46 184.00L387.21 185.00L386.97 186.00L386.72 187.00L386.47 188.00L386.23 189.00L385.98 190.00L385.73 191.00L385.48 192.00L385.22 193.00L384.97 194.00L384.71 195.00L384.46 196.00L384.22 197.00L383.98 198.00L383.76 199.00L383.55 200.00L383.35 201.00L383.15 202.00L382.95 203.00L382.75 204.00L382.56 205.00L382.37 206.00L382.19 207.00L382.03 208.00L381.89 209.00L381.77 210.00L381.68 211.00L381.61 212.00L381.56 213.00L381.51 214.00L381.47 215.00L381.44 216.00L381.43 217.00L381.44 218.00L381.46 219.00L381.49 220.00L381.54 221.00L381.61 222.00L381.63 222.30L398.53 222.30Z" fill="#EA8E83" stroke="#6c6c6c" stroke-width="1.14" stroke-linejoin="round"/>
<path d="M393.86 151.58H398.53" stroke="#6c6c6c" stroke-width="1.14" stroke-dasharray="2.57 2.57" fill="none"/>
<path d="M381.44 217.97H398.53" stroke="#6c6c6c" stroke-width="1.14" stroke-dasharray="5.13 5.13" fill="none"/>
<path d="M398.53 14.40L401.43 14.40L401.43 15.40L401.43 16.40L401.43 17.40L401.43 18.40L401.43 19.40L401.43 20.40L401.43 21.40L401.43 22.40L401.43 23.40L401.43 24.40L401.43 25.40L401.43 26.40L401.43 27.40L401.43 28.40L401.43 29.40L401.43 30.40L401.43 31.40L401.43 32.40L401.43 33.40L401.43 34.40L401.43 35.40L401.43 36.40L401.43 37.40L401.43 38.40L401.43 39.40L401.43 40.40L401.43 41.40L401.43 42.40L401.43 43.40L401.43 44.40L401.43 45.40L401.43 46.40L401.43 47.40L401.43 48.40L401.43 49.40L401.43 50.40L401.43 51.40L401.43 52.40L401.43 53.40L401.43 54.40L401.43 55.40L401.43 56.40L401.43 57.40L401.43 58.40L401.43 59.40L401.43 60.40L401.43 61.40L401.43 62.40L401.43 63.40L401.43 64.40L401.44 65.40L401.44 66.40L401.45 67.40L401.46 68.40L401.47 69.40L401.48 70.40L401.50 71.40L401.51 72.40L401.52 73.40L401.54 74.40L401.55 75.40L401.57 76.40L401.58 77.40L401.59 78.40L401.60 79.40L401.61 80.40L401.62 81.40L401.63 82.40L401.64 83.40L401.64 84.40L401.65 85.40L401.65 86.40L401.66 87.40L401.66 88.40L401.67 89.40L401.67 90.40L401.68 91.40L401.68 92.40L401.69 93.40L401.69 94.40L401.69 95.40L401.70 96.40L401.70 97.40L401.71 98.40L401.72 99.40L401.72 100.40L401.73 101.40L401.74 102.40L401.75 103.40L401.76 104.40L401.77 105.40L401.78 106.40L401.79 107.40L401.81 108.40L401.83 109.40L401.85 110.40L401.88 111.40L401.92 112.40L401.96 113.40L402.00 114.40L402.05 115.40L402.10 116.40L402.15 117.40L402.20 118.40L402.24 119.40L402.28 120.40L402.32 121.40L402.36 122.40L402.40 123.40L402.44 124.40L402.48 125.40L402.52 126.40L402.57 127.40L402.62 128.40L402.67 129.40L402.72 130.40L402.78 131.40L402.84 132.40L402.91 133.40L402.97 134.40L403.04 135.40L403.11 136.40L403.18 137.40L403.24 138.40L403.31 139.40L403.38 140.40L403.45 141.40L403.52 142.40L403.59 143.40L403.66 144.40L403.74 145.40L403.82 146.40L403.90 147.40L403.98 148.40L404.06 149.40L404.14 150.40L404.23 151.40L404.31 152.40L404.41 153.40L404.50 154.40L404.61 155.40L404.72 156.40L404.84 157.40L404.98 158.40L405.15 159.40L405.33 160.40L405.52 161.40L405.73 162.40L405.94 163.40L406.16 164.40L406.37 165.40L406.59 166.40L406.79 167.40L407.00 168.40L407.20 169.40L407.42 170.40L407.63 171.40L407.84 172.40L408.06 173.40L408.28 174.40L408.49 175.40L408.71 176.40L408.93 177.40L409.15 178.40L409.37 179.40L409.60 180.40L409.82 181.40L410.05 182.40L410.28 183.40L410.51 184.40L410.73 185.40L410.96 186.40L411.19 187.40L411.41 188.40L411.63 189.40L411.85 190.40L412.07 191.40L412.30 192.40L412.52 193.40L412.75 194.40L412.97 195.40L413.18 196.40L413.40 197.40L413.60 198.40L413.80 199.40L413.99 200.40L414.18 201.40L414.37 202.40L414.56 203.40L414.75 204.40L414.94 205.40L415.12 206.40L415.29 207.40L415.45 208.40L415.59 209.40L415.71 210.40L415.81 211.40L415.89 212.40L415.97 213.40L416.04 214.40L416.09 215.40L416.12 216.40L416.13 217.40L416.13 218.40L416.12 219.40L416.10 220.40L416.07 221.40L416.03 222.30L398.53 222.30Z" fill="#C1BED6" stroke="#6c6c6c" stroke-width="1.14" stroke-linejoin="round"/>
<path d="M398.53 154.11H404.47" stroke="#6c6c6c" stroke-width="1.14" stroke-dasharray="2.57 2.57" fill="none"/>
<path d="M398.53 216.85H416.13" stroke="#6c6c6c" stroke-width="1.14" stroke-dasharray="5.13 5.13" fill="none"/>
<path d="M442.16 53.00L438.56 53.00L438.57 54.00L438.57 55.00L438.57 56.00L438.58 57.00L438.58 58.00L438.59 59.00L438.60 60.00L438.61 61.00L438.62 62.00L438.63 63.00L438.64 64.00L438.65 65.00L438.66 66.00L438.68 67.00L438.71 68.00L438.75 69.00L438.79 70.00L438.83 71.00L438.88 72.00L438.94 73.00L438.99 74.00L439.04 75.00L439.08 76.00L439.13 77.00L439.18 78.00L439.23 79.00L439.28 80.00L439.34 81.00L439.39 82.00L439.45 83.00L439.50 84.00L439.56 85.00L439.62 86.00L439.68 87.00L439.75 88.00L439.81 89.00L439.88 90.00L439.95 91.00L440.01 92.00L440.07 93.00L440.13 94.00L440.18 95.00L440.23 96.00L440.28 97.00L440.33 98.00L440.37 99.00L440.42 100.00L440.46 101.00L440.49 102.00L440.53 103.00L440.56 104.00L440.59 105.00L440.62 106.00L440.65 107.00L440.67 108.00L440.70 109.00L440.72 110.00L440.74 111.00L440.75 112.00L440.76 113.00L440.76 114.00L440.76 115.00L440.75 116.00L440.73 117.00L440.71 118.00L440.68 119.00L440.66 120.00L440.63 121.00L440.60 122.00L440.57 123.00L440.55 124.00L440.52 125.00L440.49 126.00L440.46 127.00L440.43 128.00L440.39 129.00L440.35 130.00L440.29 131.00L440.22 132.00L440.14 133.00L440.05 134.00L439.96 135.00L439.86 136.00L439.76 137.00L439.67 138.00L439.57 139.00L439.49 140.00L439.40 141.00L439.31 142.00L439.22 143.00L439.13 144.00L439.04 145.00L438.94 146.00L438.84 147.00L438.74 148.00L438.63 149.00L438.52 150.00L438.40 151.00L438.28 152.00L438.15 153.00L438.02 154.00L437.89 155.00L437.76 156.00L437.62 157.00L437.49 158.00L437.36 159.00L437.23 160.00L437.11 161.00L436.98 162.00L436.85 163.00L436.72 164.00L436.58 165.00L436.44 166.00L436.29 167.00L436.13 168.00L435.96 169.00L435.79 170.00L435.60 171.00L435.41 172.00L435.21 173.00L435.00 174.00L434.78 175.00L434.56 176.00L434.33 177.00L434.09 178.00L433.83 179.00L433.55 180.00L433.26 181.00L432.96 182.00L432.65 183.00L432.34 184.00L432.02 185.00L431.71 186.00L431.39 187.00L431.09 188.00L430.79 189.00L430.51 190.00L430.22 191.00L429.94 192.00L429.66 193.00L429.39 194.00L429.11 195.00L428.85 196.00L428.59 197.00L428.34 198.00L428.09 199.00L427.84 200.00L427.58 201.00L427.33 202.00L427.08 203.00L426.84 204.00L426.62 205.00L426.41 206.00L426.24 207.00L426.09 208.00L425.97 209.00L425.85 210.00L425.73 211.00L425.62 212.00L425.52 213.00L425.43 214.00L425.36 215.00L425.31 216.00L425.27 217.00L425.27 218.00L425.30 219.00L425.38 220.00L425.49 221.00L425.62 222.00L425.66 222.30L442.16 222.30Z" fill="#EA8E83" stroke="#6c6c6c" stroke-width="1.14" stroke-linejoin="round"/>
<path d="M436.85 162.98H442.16" stroke="#6c6c6c" stroke-width="1.14" stroke-dasharray="2.57 2.57" fill="none"/>
<path d="M425.39 220.06H442.16" stroke="#6c6c6c" stroke-width="1.14" stroke-dasharray="5.13 5.13" fill="none"/>
<path d="M442.16 17.60L444.46 17.60L444.46 18.60L444.46 19.60L444.46 20.60L444.46 21.60L444.46 22.60L444.46 23.60L444.46 24.60L444.46 25.60L444.46 26.60L444.46 27.60L444.46 28.60L444.46 29.60L444.46 30.60L444.46 31.60L444.46 32.60L444.46 33.60L444.46 34.60L444.46 35.60L444.46 36.60L444.46 37.60L444.46 38.60L444.46 39.60L444.46 40.60L444.46 41.60L444.46 42.60L444.46 43.60L444.46 44.60L444.46 45.60L444.46 46.60L444.46 47.60L444.46 48.60L444.46 49.60L444.46 50.60L444.46 51.60L444.46 52.60L444.46 53.60L444.46 54.60L444.46 55.60L444.46 56.60L444.46 57.60L444.46 58.60L444.46 59.60L444.46 60.60L444.46 61.60L444.46 62.60L444.46 63.60L444.46 64.60L444.46 65.60L444.46 66.60L444.46 67.60L444.46 68.60L444.46 69.60L444.46 70.60L444.45 71.60L444.45 72.60L444.44 73.60L444.44 74.60L444.43 75.60L444.43 76.60L444.42 77.60L444.41 78.60L444.40 79.60L444.40 80.60L444.39 81.60L444.38 82.60L444.38 83.60L444.37 84.60L444.36 85.60L444.35 86.60L444.34 87.60L444.33 88.60L444.32 89.60L444.31 90.60L444.29 91.60L444.28 92.60L444.26 93.60L444.25 94.60L444.24 95.60L444.22 96.60L444.21 97.60L444.20 98.60L444.19 99.60L444.18 100.60L444.17 101.60L444.17 102.60L444.17 103.60L444.16 104.60L444.16 105.60L444.16 106.60L444.16 107.60L444.16 108.60L444.16 109.60L444.16 110.60L444.16 111.60L444.16 112.60L444.16 113.60L444.16 114.60L444.16 115.60L444.16 116.60L444.16 117.60L444.16 118.60L444.16 119.60L444.16 120.60L444.16 121.60L444.16 122.60L444.17 123.60L444.18 124.60L444.21 125.60L444.24 126.60L444.28 127.60L444.33 128.60L444.36 129.60L444.40 130.60L444.44 131.60L444.48 132.60L444.52 133.60L444.56 134.60L444.61 135.60L444.65 136.60L444.70 137.60L444.74 138.60L444.79 139.60L444.83 140.60L444.88 141.60L444.93 142.60L444.97 143.60L445.02 144.60L445.07 145.60L445.13 146.60L445.19 147.60L445.26 148.60L445.33 149.60L445.42 150.60L445.51 151.60L445.61 152.60L445.72 153.60L445.84 154.60L445.95 155.60L446.07 156.60L446.19 157.60L446.31 158.60L446.43 159.60L446.56 160.60L446.68 161.60L446.81 162.60L446.95 163.60L447.09 164.60L447.23 165.60L447.38 166.60L447.53 167.60L447.69 168.60L447.86 169.60L448.04 170.60L448.23 171.60L448.42 172.60L448.61 173.60L448.81 174.60L449.02 175.60L449.22 176.60L449.43 177.60L449.64 178.60L449.86 179.60L450.12 180.60L450.40 181.60L450.70 182.60L451.01 183.60L451.33 184.60L451.65 185.60L451.98 186.60L452.30 187.60L452.61 188.60L452.92 189.60L453.23 190.60L453.54 191.60L453.85 192.60L454.16 193.60L454.47 194.60L454.78 195.60L455.07 196.60L455.36 197.60L455.64 198.60L455.91 199.60L456.18 200.60L456.46 201.60L456.73 202.60L456.99 203.60L457.24 204.60L457.47 205.60L457.68 206.60L457.87 207.60L458.03 208.60L458.19 209.60L458.35 210.60L458.50 211.60L458.65 212.60L458.78 213.60L458.89 214.60L458.98 215.60L459.04 216.60L459.06 217.60L459.06 218.60L459.04 219.60L458.99 220.60L458.93 221.60L458.86 222.30L442.16 222.30Z" fill="#C1BED6" stroke="#6c6c6c" stroke-width="1.14" stroke-linejoin="round"/>
<path d="M442.16 188.74H452.65" stroke="#6c6c6c" stroke-width="1.14" stroke-dasharray="2.57 2.57" fill="none"/>
<path d="M442.16 216.39H459.03" stroke="#6c6c6c" stroke-width="1.14" stroke-dasharray="5.13 5.13" fill="none"/>
<path d="M485.80 10.70L485.50 10.70L485.42 11.70L485.34 12.70L485.27 13.70L485.19 14.70L485.13 15.70L485.07 16.70L485.01 17.70L484.96 18.70L484.91 19.70L484.85 20.70L484.79 21.70L484.72 22.70L484.64 23.70L484.54 24.70L484.42 25.70L484.29 26.70L484.13 27.70L483.97 28.70L483.79 29.70L483.60 30.70L483.40 31.70L483.20 32.70L483.00 33.70L482.79 34.70L482.57 35.70L482.34 36.70L482.10 37.70L481.84 38.70L481.58 39.70L481.31 40.70L481.03 41.70L480.74 42.70L480.45 43.70L480.14 44.70L479.81 45.70L479.47 46.70L479.12 47.70L478.76 48.70L478.40 49.70L478.04 50.70L477.69 51.70L477.33 52.70L476.99 53.70L476.65 54.70L476.31 55.70L475.97 56.70L475.63 57.70L475.27 58.70L474.91 59.70L474.53 60.70L474.13 61.70L473.75 62.70L473.35 63.70L472.95 64.70L472.55 65.70L472.17 66.70L471.80 67.70L471.47 68.70L471.17 69.70L470.89 70.70L470.62 71.70L470.35 72.70L470.10 73.70L469.86 74.70L469.64 75.70L469.44 76.70L469.28 77.70L469.14 78.70L469.04 79.70L468.94 80.70L468.85 81.70L468.77 82.70L468.72 83.70L468.70 84.70L468.72 85.70L468.76 86.70L468.83 87.70L468.90 88.70L468.99 89.70L469.11 90.70L469.26 91.70L469.43 92.70L469.62 93.70L469.82 94.70L470.04 95.70L470.26 96.70L470.49 97.70L470.72 98.70L470.97 99.70L471.26 100.70L471.56 101.70L471.88 102.70L472.20 103.70L472.53 104.70L472.85 105.70L473.17 106.70L473.47 107.70L473.76 108.70L474.03 109.70L474.31 110.70L474.58 111.70L474.85 112.70L475.13 113.70L475.41 114.70L475.71 115.70L476.03 116.70L476.31 117.70L476.57 118.70L476.83 119.70L477.08 120.70L477.31 121.70L477.53 122.70L477.73 123.70L477.92 124.70L478.09 125.70L478.25 126.70L478.40 127.70L478.54 128.70L478.68 129.70L478.81 130.70L478.93 131.70L479.05 132.70L479.16 133.70L479.26 134.70L479.37 135.70L479.47 136.70L479.57 137.70L479.67 138.70L479.75 139.70L479.83 140.70L479.90 141.70L479.96 142.70L480.00 143.70L480.03 144.70L480.06 145.70L480.09 146.70L480.12 147.70L480.15 148.70L480.17 149.70L480.18 150.70L480.19 151.70L480.20 152.70L480.20 153.70L480.20 154.70L480.20 155.70L480.20 156.70L480.20 157.70L480.20 158.70L480.20 159.70L480.20 160.70L480.20 161.70L480.20 162.70L480.19 163.70L480.16 164.70L480.12 165.70L480.05 166.70L479.98 167.70L479.90 168.70L479.82 169.70L479.73 170.70L479.63 171.70L479.52 172.70L479.38 173.70L479.23 174.70L479.06 175.70L478.88 176.70L478.69 177.70L478.49 178.70L478.28 179.70L478.04 180.70L477.78 181.70L477.48 182.70L477.17 183.70L476.84 184.70L476.51 185.70L476.17 186.70L475.84 187.70L475.52 188.70L475.22 189.70L474.90 190.70L474.58 191.70L474.26 192.70L473.94 193.70L473.62 194.70L473.32 195.70L473.03 196.70L472.75 197.70L472.50 198.70L472.26 199.70L472.01 200.70L471.78 201.70L471.54 202.70L471.32 203.70L471.12 204.70L470.94 205.70L470.78 206.70L470.65 207.70L470.55 208.70L470.46 209.70L470.37 210.70L470.28 211.70L470.21 212.70L470.14 213.70L470.08 214.70L470.04 215.70L470.01 216.70L470.00 217.70L470.02 218.70L470.09 219.70L470.19 220.70L470.32 221.70L470.40 222.30L485.80 222.30Z" fill="#EA8E83" stroke="#6c6c6c" stroke-width="1.14" stroke-linejoin="round"/>
<path d="M468.74 86.39H485.80" stroke="#6c6c6c" stroke-width="1.14" stroke-dasharray="2.57 2.57" fill="none"/>
<path d="M479.50 137.02H485.80" stroke="#6c6c6c" stroke-width="1.14" stroke-dasharray="5.13 5.13" fill="none"/>
<path d="M470.02 218.71H485.80" stroke="#6c6c6c" stroke-width="1.14" stroke-dasharray="2.57 2.57" fill="none"/>
<path d="M485.80 33.70L486.70 33.70L486.84 34.70L486.99 35.70L487.13 36.70L487.29 37.70L487.45 38.70L487.61 39.70L487.77 40.70L487.94 41.70L488.11 42.70L488.29 43.70L488.47 44.70L488.66 45.70L488.86 46.70L489.06 47.70L489.26 48.70L489.46 49.70L489.67 50.70L489.88 51.70L490.08 52.70L490.28 53.70L490.49 54.70L490.70 55.70L490.91 56.70L491.12 57.70L491.33 58.70L491.54 59.70L491.74 60.70L491.95 61.70L492.15 62.70L492.35 63.70L492.55 64.70L492.75 65.70L492.94 66.70L493.14 67.70L493.33 68.70L493.52 69.70L493.71 70.70L493.90 71.70L494.09 72.70L494.28 73.70L494.46 74.70L494.64 75.70L494.82 76.70L494.98 77.70L495.14 78.70L495.29 79.70L495.43 80.70L495.56 81.70L495.70 82.70L495.82 83.70L495.95 84.70L496.06 85.70L496.18 86.70L496.29 87.70L496.40 88.70L496.51 89.70L496.62 90.70L496.73 91.70L496.83 92.70L496.93 93.70L497.03 94.70L497.12 95.70L497.20 96.70L497.27 97.70L497.33 98.70L497.39 99.70L497.45 100.70L497.50 101.70L497.55 102.70L497.60 103.70L497.64 104.70L497.67 105.70L497.69 106.70L497.70 107.70L497.70 108.70L497.70 109.70L497.70 110.70L497.70 111.70L497.70 112.70L497.70 113.70L497.70 114.70L497.70 115.70L497.70 116.70L497.70 117.70L497.73 118.70L497.77 119.70L497.83 120.70L497.90 121.70L497.97 122.70L498.04 123.70L498.11 124.70L498.17 125.70L498.23 126.70L498.29 127.70L498.35 128.70L498.42 129.70L498.48 130.70L498.55 131.70L498.61 132.70L498.67 133.70L498.74 134.70L498.81 135.70L498.90 136.70L498.98 137.70L499.06 138.70L499.14 139.70L499.20 140.70L499.25 141.70L499.29 142.70L499.30 143.70L499.30 144.70L499.30 145.70L499.30 146.70L499.30 147.70L499.30 148.70L499.30 149.70L499.30 150.70L499.30 151.70L499.30 152.70L499.30 153.70L499.28 154.70L499.24 155.70L499.19 156.70L499.13 157.70L499.06 158.70L498.98 159.70L498.89 160.70L498.80 161.70L498.71 162.70L498.60 163.70L498.47 164.70L498.32 165.70L498.14 166.70L497.97 167.70L497.78 168.70L497.61 169.70L497.45 170.70L497.29 171.70L497.12 172.70L496.93 173.70L496.75 174.70L496.57 175.70L496.42 176.70L496.30 177.70L496.22 178.70L496.20 179.70L496.20 180.70L496.21 181.70L496.22 182.70L496.24 183.70L496.26 184.70L496.29 185.70L496.32 186.70L496.35 187.70L496.38 188.70L496.44 189.70L496.55 190.70L496.73 191.70L496.96 192.70L497.22 193.70L497.51 194.70L497.81 195.70L498.12 196.70L498.42 197.70L498.70 198.70L498.99 199.70L499.30 200.70L499.64 201.70L499.99 202.70L500.33 203.70L500.67 204.70L500.98 205.70L501.26 206.70L501.50 207.70L501.69 208.70L501.89 209.70L502.08 210.70L502.26 211.70L502.43 212.70L502.58 213.70L502.71 214.70L502.81 215.70L502.87 216.70L502.90 217.70L502.89 218.70L502.87 219.70L502.83 220.70L502.76 221.70L502.70 222.30L485.80 222.30Z" fill="#C1BED6" stroke="#6c6c6c" stroke-width="1.14" stroke-linejoin="round"/>
<path d="M485.80 111.26H497.70" stroke="#6c6c6c" stroke-width="1.14" stroke-dasharray="2.57 2.57" fill="none"/>
<path d="M485.80 155.70H499.24" stroke="#6c6c6c" stroke-width="1.14" stroke-dasharray="5.13 5.13" fill="none"/>
<path d="M485.80 219.68H502.87" stroke="#6c6c6c" stroke-width="1.14" stroke-dasharray="2.57 2.57" fill="none"/>
<rect x="27.55" y="0.35" width="479.85" height="232.05" fill="none" stroke="#222" stroke-width="0.66"/>
<path d="M49.45 232.40V235.30" stroke="#222" stroke-width="0.66"/>
<path d="M93.09 232.40V235.30" stroke="#222" stroke-width="0.66"/>
<path d="M136.72 232.40V235.30" stroke="#222" stroke-width="0.66"/>
<path d="M180.36 232.40V235.30" stroke="#222" stroke-width="0.66"/>
<path d="M223.99 232.40V235.30" stroke="#222" stroke-width="0.66"/>
<path d="M267.62 232.40V235.30" stroke="#222" stroke-width="0.66"/>
<path d="M311.26 232.40V235.30" stroke="#222" stroke-width="0.66"/>
<path d="M354.89 232.40V235.30" stroke="#222" stroke-width="0.66"/>
<path d="M398.53 232.40V235.30" stroke="#222" stroke-width="0.66"/>
<path d="M442.16 232.40V235.30" stroke="#222" stroke-width="0.66"/>
<path d="M485.80 232.40V235.30" stroke="#222" stroke-width="0.66"/>
<path d="M24.85 222.30H27.55" stroke="#222" stroke-width="0.66"/>
<path d="M24.85 180.08H27.55" stroke="#222" stroke-width="0.66"/>
<path d="M24.85 137.86H27.55" stroke="#222" stroke-width="0.66"/>
<path d="M24.85 95.64H27.55" stroke="#222" stroke-width="0.66"/>
<path d="M24.85 53.42H27.55" stroke="#222" stroke-width="0.66"/>
<path d="M24.85 11.20H27.55" stroke="#222" stroke-width="0.66"/>
<text x="21.95" y="225.10" font-family="Liberation Sans, sans-serif" fill="#1c1c1c" stroke="#1c1c1c" stroke-width="0.18" font-size="8.20" text-anchor="end" textLength="11.24" lengthAdjust="spacingAndGlyphs">0.0</text>
<text x="21.95" y="182.88" font-family="Liberation Sans, sans-serif" fill="#1c1c1c" stroke="#1c1c1c" stroke-width="0.18" font-size="8.20" text-anchor="end" textLength="11.24" lengthAdjust="spacingAndGlyphs">0.2</text>
<text x="21.95" y="140.66" font-family="Liberation Sans, sans-serif" fill="#1c1c1c" stroke="#1c1c1c" stroke-width="0.18" font-size="8.20" text-anchor="end" textLength="11.24" lengthAdjust="spacingAndGlyphs">0.4</text>
<text x="21.95" y="98.44" font-family="Liberation Sans, sans-serif" fill="#1c1c1c" stroke="#1c1c1c" stroke-width="0.18" font-size="8.20" text-anchor="end" textLength="11.24" lengthAdjust="spacingAndGlyphs">0.6</text>
<text x="21.95" y="56.22" font-family="Liberation Sans, sans-serif" fill="#1c1c1c" stroke="#1c1c1c" stroke-width="0.18" font-size="8.20" text-anchor="end" textLength="11.24" lengthAdjust="spacingAndGlyphs">0.8</text>
<text x="21.95" y="14.00" font-family="Liberation Sans, sans-serif" fill="#1c1c1c" stroke="#1c1c1c" stroke-width="0.18" font-size="8.20" text-anchor="end" textLength="11.24" lengthAdjust="spacingAndGlyphs">1.0</text>
<text transform="translate(5.9 117.47) rotate(-90)" font-family="Liberation Sans, sans-serif" fill="#1c1c1c" stroke="#1c1c1c" stroke-width="0.18" font-size="8.20" text-anchor="middle" textLength="31.56" lengthAdjust="spacingAndGlyphs">lDDT-PLI</text>
<text transform="translate(48.65 242.80) rotate(-45)" font-family="Liberation Sans, sans-serif" fill="#1c1c1c" stroke="#1c1c1c" stroke-width="0.18" font-size="8.20" text-anchor="end" textLength="39.26" lengthAdjust="spacingAndGlyphs">DiffDock-L</text>
<text transform="translate(92.29 242.80) rotate(-45)" font-family="Liberation Sans, sans-serif" fill="#1c1c1c" stroke="#1c1c1c" stroke-width="0.18" font-size="8.20" text-anchor="end" textLength="65.31" lengthAdjust="spacingAndGlyphs">DiffDock w/o SCT</text>
<text transform="translate(135.92 242.80) rotate(-45)" font-family="Liberation Sans, sans-serif" fill="#1c1c1c" stroke="#1c1c1c" stroke-width="0.18" font-size="8.20" text-anchor="end" textLength="50.48" lengthAdjust="spacingAndGlyphs">DynamicBind</text>
<text transform="translate(179.56 242.80) rotate(-45)" font-family="Liberation Sans, sans-serif" fill="#1c1c1c" stroke="#1c1c1c" stroke-width="0.18" font-size="8.20" text-anchor="end" textLength="50.36" lengthAdjust="spacingAndGlyphs">NeuralPLexer</text>
<text transform="translate(223.19 242.80) rotate(-45)" font-family="Liberation Sans, sans-serif" fill="#1c1c1c" stroke="#1c1c1c" stroke-width="0.18" font-size="8.20" text-anchor="end" textLength="84.64" lengthAdjust="spacingAndGlyphs">NeuralPLexer w/o ILCL</text>
<text transform="translate(266.82 242.80) rotate(-45)" font-family="Liberation Sans, sans-serif" fill="#1c1c1c" stroke="#1c1c1c" stroke-width="0.18" font-size="8.20" text-anchor="end" textLength="60.86" lengthAdjust="spacingAndGlyphs">RoseTTAFold-AA</text>
<text transform="translate(310.46 242.80) rotate(-45)" font-family="Liberation Sans, sans-serif" fill="#1c1c1c" stroke="#1c1c1c" stroke-width="0.18" font-size="8.20" text-anchor="end" textLength="24.47" lengthAdjust="spacingAndGlyphs">Chai-1</text>
<text transform="translate(354.09 242.80) rotate(-45)" font-family="Liberation Sans, sans-serif" fill="#1c1c1c" stroke="#1c1c1c" stroke-width="0.18" font-size="8.20" text-anchor="end" textLength="21.26" lengthAdjust="spacingAndGlyphs">TULIP</text>
<text transform="translate(397.73 242.80) rotate(-45)" font-family="Liberation Sans, sans-serif" fill="#1c1c1c" stroke="#1c1c1c" stroke-width="0.18" font-size="8.20" text-anchor="end" textLength="58.04" lengthAdjust="spacingAndGlyphs">DiffDock-L-Vina</text>
<text transform="translate(441.36 242.80) rotate(-45)" font-family="Liberation Sans, sans-serif" fill="#1c1c1c" stroke="#1c1c1c" stroke-width="0.18" font-size="8.20" text-anchor="end" textLength="47.32" lengthAdjust="spacingAndGlyphs">P2Rank-Vina</text>
<text transform="translate(485.00 242.80) rotate(-45)" font-family="Liberation Sans, sans-serif" fill="#1c1c1c" stroke="#1c1c1c" stroke-width="0.18" font-size="8.20" text-anchor="end" textLength="60.39" lengthAdjust="spacingAndGlyphs">Ensemble (Con)</text>
<text x="267.47" y="311.60" font-family="Liberation Sans, sans-serif" fill="#1c1c1c" stroke="#1c1c1c" stroke-width="0.18" font-size="8.20" text-anchor="middle" textLength="115.22" lengthAdjust="spacingAndGlyphs">Multi-ligand blind docking (all)</text>
<rect x="535.6" y="4.4" width="105.8" height="35.8" rx="1.6" fill="#fff" stroke="#dadada" stroke-width="0.7"/>
<text x="588.50" y="13.40" font-family="Liberation Sans, sans-serif" fill="#1c1c1c" stroke="#1c1c1c" stroke-width="0.18" font-size="8.20" text-anchor="middle" textLength="59.60" lengthAdjust="spacingAndGlyphs">Post-processing</text>
<rect x="538.6" y="19.4" width="15.0" height="4.9" fill="#EA8E83" stroke="#777" stroke-width="0.6"/>
<rect x="538.6" y="30.6" width="15.0" height="4.9" fill="#C1BED6" stroke="#777" stroke-width="0.6"/>
<text x="560.20" y="24.70" font-family="Liberation Sans, sans-serif" fill="#1c1c1c" stroke="#1c1c1c" stroke-width="0.18" font-size="8.20" text-anchor="start" textLength="18.96" lengthAdjust="spacingAndGlyphs">none</text>
<text x="560.20" y="35.90" font-family="Liberation Sans, sans-serif" fill="#1c1c1c" stroke="#1c1c1c" stroke-width="0.18" font-size="8.20" text-anchor="start" textLength="78.06" lengthAdjust="spacingAndGlyphs">energy minimization</text>
</svg>
</body></html>
